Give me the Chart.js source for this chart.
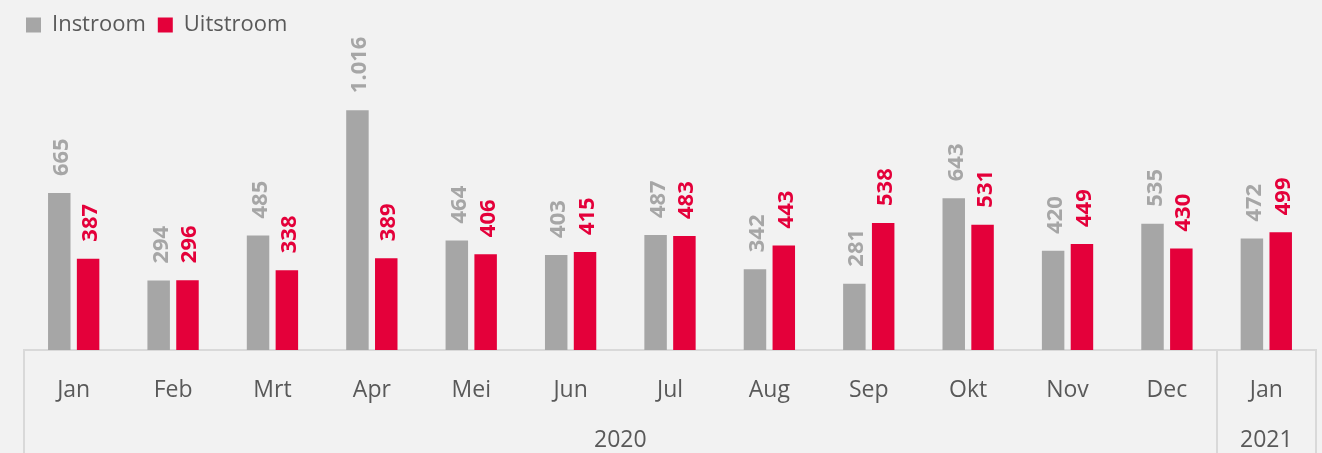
<!DOCTYPE html>
<html>
<head>
<meta charset="utf-8">
<script src="https://cdn.jsdelivr.net/npm/chart.js@4.4.1/dist/chart.umd.min.js"></script>
<style>
  html, body { margin: 0; padding: 0; background: #f2f2f2; }
</style>
</head>
<body>
<canvas id="chart" width="1322" height="453"></canvas>
<script>
// maanden en het jaar waar ze bij horen
const months = ['Jan', 'Feb', 'Mrt', 'Apr', 'Mei', 'Jun', 'Jul', 'Aug', 'Sep', 'Okt', 'Nov', 'Dec', 'Jan'];
const monthYears = ['2020', '2020', '2020', '2020', '2020', '2020', '2020', '2020', '2020', '2020', '2020', '2020', '2021'];

const instroom = [665, 294, 485, 1016, 464, 403, 487, 342, 281, 643, 420, 535, 472];
const uitstroom = [387, 296, 338, 389, 406, 415, 483, 443, 538, 531, 449, 430, 499];

const GRAY = '#a6a6a6';
const RED = '#e4003a';
const TEXT = '#595959';
const LINE = '#d9d9d9';

// 1016 -> "1.016"
function fmt(v) {
    return String(v).replace(/\B(?=(\d{3})+(?!\d))/g, '.');
}

// lijn aan begin van elk jaar en aan het eind
function isYearEdge(ctx) {
    if (ctx.type !== 'tick') return true;
    const i = ctx.index;
    return i === 0 || monthYears[i] !== monthYears[i - 1];
}

// waarden boven de staven, gedraaid
const valueLabels = {
    id: 'valueLabels',
    afterDatasetsDraw(chart) {
        const ctx = chart.ctx;
        ctx.save();
        ctx.font = 'bold 22px "Open Sans"';
        ctx.textAlign = 'left';
        ctx.textBaseline = 'alphabetic';
        chart.data.datasets.forEach((ds, di) => {
            const meta = chart.getDatasetMeta(di);
            ctx.fillStyle = ds.backgroundColor;
            meta.data.forEach((bar, i) => {
                ctx.save();
                ctx.translate(bar.x, bar.y - 17);
                ctx.rotate(-Math.PI / 2);
                ctx.fillText(fmt(ds.data[i]), 0, 9);
                ctx.restore();
            });
        });
        ctx.restore();
    }
};

// tweede rij: jaartallen onder de maanden
const yearLabels = {
    id: 'yearLabels',
    afterDraw(chart) {
        const x = chart.scales.x;
        const ctx = chart.ctx;
        ctx.save();
        ctx.font = '23px "Open Sans"';
        ctx.fillStyle = TEXT;
        ctx.textAlign = 'center';
        ctx.textBaseline = 'middle';
        let start = 0;
        for (let i = 1; i <= monthYears.length; i++) {
            if (i === monthYears.length || monthYears[i] !== monthYears[start]) {
                const cx = (x.getPixelForValue(start) + x.getPixelForValue(i - 1)) / 2;
                ctx.fillText(monthYears[start], cx, 440);
                start = i;
            }
        }
        ctx.restore();
    }
};

new Chart(document.getElementById('chart'), {
    type: 'bar',
    data: {
        labels: months,
        datasets: [
            { label: 'Instroom', data: instroom, backgroundColor: GRAY },
            { label: 'Uitstroom', data: uitstroom, backgroundColor: RED },
        ],
    },
    options: {
        responsive: false,
        animation: false,
        layout: { padding: { left: 14, right: 6, top: 2, bottom: 0 } },
        datasets: {
            bar: { categoryPercentage: 0.58, barPercentage: 0.78 },
        },
        plugins: {
            legend: {
                position: 'top',
                align: 'start',
                labels: {
                    boxWidth: 15,
                    boxHeight: 15,
                    padding: 12,
                    color: TEXT,
                    font: { family: 'Open Sans', size: 22 },
                },
            },
            tooltip: { enabled: false },
        },
        scales: {
            x: {
                offset: true,
                grid: {
                    offset: true,
                    drawOnChartArea: false,
                    drawTicks: true,
                    tickLength: 103,
                    lineWidth: 2,
                    color: ctx => isYearEdge(ctx) ? LINE : 'rgba(0,0,0,0)',
                    tickColor: ctx => isYearEdge(ctx) ? LINE : 'rgba(0,0,0,0)',
                },
                border: { display: true, color: LINE, width: 2 },
                ticks: {
                    color: TEXT,
                    font: { family: 'Open Sans', size: 23 },
                    padding: -76,
                    maxRotation: 0,
                    autoSkip: false,
                },
                afterFit(scale) { scale.height = 103; },
            },
            y: {
                min: 0,
                max: 1288,
                ticks: { display: false },
                grid: { display: false },
                border: { display: false },
                afterFit(scale) { scale.width = 10; },
            },
        },
    },
    plugins: [valueLabels, yearLabels],
});
</script>
</body>
</html>
